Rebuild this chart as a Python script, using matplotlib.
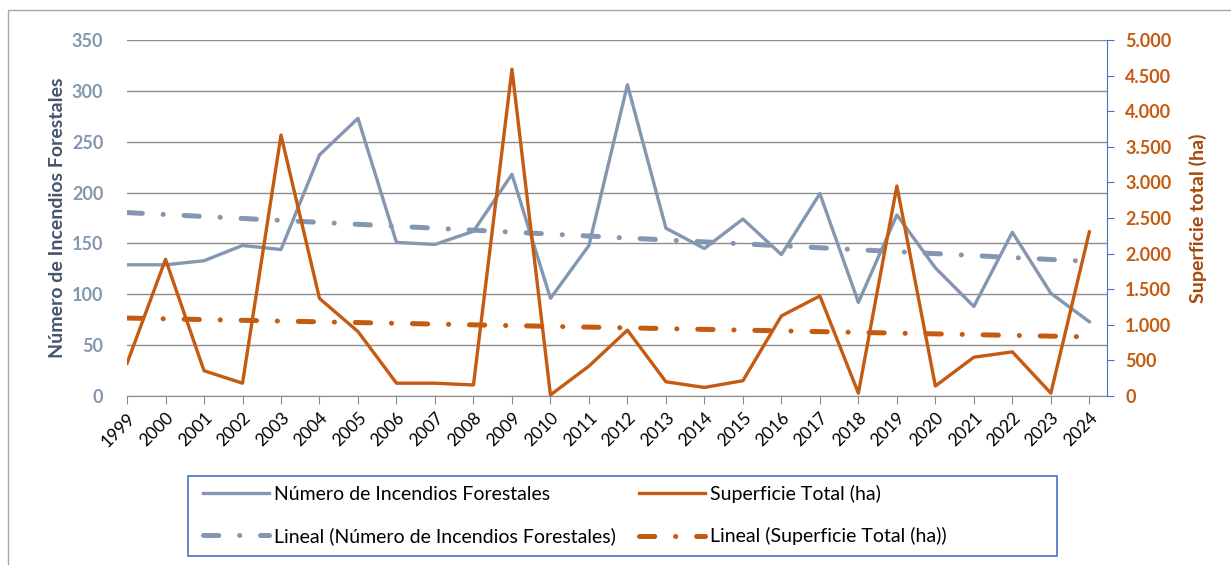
import numpy as np
import matplotlib
matplotlib.use("Agg")
import matplotlib.pyplot as plt
from matplotlib.patches import Rectangle

# datos
years = list(range(1999, 2025))
incendios = [129, 129, 133, 148, 144, 237, 273, 151, 149, 162, 218, 96, 148, 306,
             165, 145, 174, 139, 199, 92, 178, 126, 88, 161, 101, 73]
superficie = [460, 1920, 355, 180, 3665, 1370, 905, 180, 180, 155, 4590, 15, 420, 925,
              200, 120, 215, 1125, 1405, 40, 2950, 140, 545, 620, 40, 2305]

c_blue = "#8497B0"
c_orange = "#C55A11"
c_navy = "#44546A"
c_brown = "#A5480C"
c_axis = "#4472C4"

plt.rcParams['font.family'] = ['Lato', 'DejaVu Sans']
plt.rcParams['lines.scale_dashes'] = False

x = np.array(years)
# lineas de tendencia (ajuste lineal, como en Excel)
p1 = np.polyfit(x, incendios, 1)
p2 = np.polyfit(x, superficie, 1)
trend1 = np.polyval(p1, x)
trend2 = np.polyval(p2, x)

fig = plt.figure(figsize=(12.31, 5.65), dpi=100)
ax = fig.add_axes([0.1032, 0.2991, 0.7961, 0.6301])
ax2 = ax.twinx()

dash = (11, 15, 0.1, 15)
l1, = ax.plot(x, incendios, color=c_blue, lw=2.4, label="Número de Incendios Forestales")
l3, = ax.plot(x, trend1, color=c_blue, lw=3.6, dashes=dash, dash_capstyle='round',
              label="Lineal (Número de Incendios Forestales)")
l2, = ax2.plot(x, superficie, color=c_orange, lw=2.4, label="Superficie Total (ha)")
l4, = ax2.plot(x, trend2, color=c_orange, lw=3.6, dashes=dash, dash_capstyle='round',
               label="Lineal (Superficie Total (ha))")

ax.set_ylim(0, 350)
ax.set_yticks(range(0, 351, 50))
ax2.set_ylim(0, 5000)
ax2.set_yticks(range(0, 5001, 500))
ax2.set_yticklabels([f"{v:,}".replace(",", ".") for v in range(0, 5001, 500)])
ax.set_xlim(1999, 2024.46)
ax.set_xticks(years)
ax.set_xticklabels([str(y) for y in years], rotation=45, ha='right', rotation_mode='anchor',
                   fontsize=12.5)

ax.grid(axis='y', color='#8C8C8C', lw=1)
ax.set_axisbelow(True)
for s in ['top', 'right', 'left']:
    ax.spines[s].set_visible(False)
for s in ['top', 'left', 'bottom']:
    ax2.spines[s].set_visible(False)
ax.spines['bottom'].set_color('#8C8C8C')
ax2.spines['right'].set_color(c_axis)
ax2.spines['right'].set_position(('data', 2024.46))

ax.tick_params(axis='y', length=0, labelsize=13, labelcolor=c_blue, pad=17)
ax.tick_params(axis='x', length=6, color='#8C8C8C', direction='out', pad=4)
ax2.tick_params(axis='y', length=5, color=c_axis, labelsize=13, labelcolor=c_orange, pad=8)
for t in ax.get_yticklabels() + ax2.get_yticklabels():
    t.set_fontweight('bold')

ax.set_ylabel("Número de Incendios Forestales", fontsize=14, fontweight='bold',
              color=c_navy, labelpad=4)
ax2.set_ylabel("Superficie total (ha)", fontsize=14, fontweight='bold', color=c_brown,
               labelpad=13)

# leyenda: orden por filas como en Excel
leg = fig.legend(handles=[l1, l3, l2, l4], ncol=2, loc='upper left',
                 bbox_to_anchor=(203 / 1231, 1 - 485 / 565),
                 frameon=False, fontsize=14, handlelength=3.4, handletextpad=0.25,
                 borderaxespad=0, borderpad=0, columnspacing=1.2, labelspacing=1.25)

# caja de la leyenda
fig.patches.append(Rectangle((188 / 1231, 1 - 556 / 565), 869 / 1231, 80 / 565,
                             transform=fig.transFigure, fill=False, edgecolor=c_axis, lw=1.2))
# marco exterior del grafico
fig.patches.append(Rectangle((8 / 1231, -0.05), 1.1, 1 - 10 / 565 + 0.05,
                             transform=fig.transFigure, fill=False, edgecolor='#A6A6A6', lw=1))

fig.savefig("out.png", dpi=100)
